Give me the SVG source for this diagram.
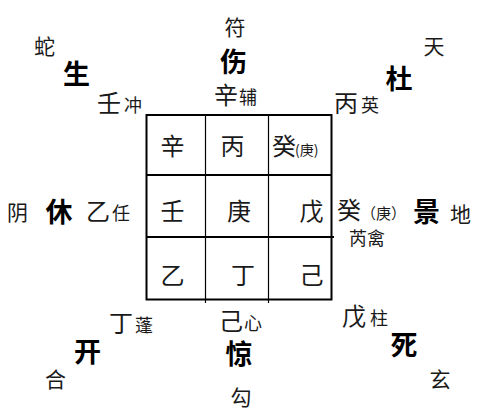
<svg xmlns="http://www.w3.org/2000/svg" width="478" height="420" viewBox="0 0 478 420">
<style>
text{font-family:"Noto Sans CJK SC","Noto Sans CJK JP",sans-serif;fill:#1a1a1a}
.door{font-size:27px;font-weight:bold;fill:#000;text-anchor:middle}
.god{font-size:21px;text-anchor:middle}
.stem{font-size:24px}
.star{font-size:18px}
.cell{font-size:24px;text-anchor:middle}
.thick{stroke:#000;stroke-width:2;fill:none}
.thin{stroke:#000;stroke-width:1.2;fill:none}
</style>
<rect width="478" height="420" fill="#fff"/>
<g id="grid">
<rect class="thick" x="146.5" y="115" width="185" height="184.5"/>
<line class="thick" x1="146.5" y1="175" x2="331.5" y2="175"/>
<line class="thick" x1="146.5" y1="237" x2="334" y2="237"/>
<line class="thin" x1="205.5" y1="115" x2="205.5" y2="303"/>
<line class="thin" x1="268.5" y1="115" x2="268.5" y2="303"/>
</g>
<g id="cells">
<text class="cell" x="172.5" y="155">辛</text>
<text class="cell" x="232.5" y="155">丙</text>
<text x="272" y="155"><tspan class="stem">癸</tspan><tspan style="font-size:14px" dx="-1">(庚)</tspan></text>
<text class="cell" x="172.5" y="220">壬</text>
<text class="cell" x="239" y="220">庚</text>
<text class="cell" x="311.5" y="220">戊</text>
<text class="cell" x="172.5" y="284">乙</text>
<text class="cell" x="243" y="284">丁</text>
<text class="cell" x="311.5" y="284">己</text>
</g>
<g id="palace-nw">
<text class="god" x="44.5" y="53.5">蛇</text>
<text class="door" x="76.5" y="84">生</text>
<text x="97" y="112"><tspan class="stem">壬</tspan><tspan class="star" dx="3">冲</tspan></text>
</g>
<g id="palace-n">
<text class="god" x="235" y="34.5">符</text>
<text class="door" x="233.5" y="72">伤</text>
<text x="214" y="104"><tspan class="stem">辛</tspan><tspan class="star" dx="1">辅</tspan></text>
</g>
<g id="palace-ne">
<text class="god" x="434" y="53.5">天</text>
<text class="door" x="399" y="89">杜</text>
<text x="334" y="112"><tspan class="stem">丙</tspan><tspan class="star" dx="3">英</tspan></text>
</g>
<g id="palace-w">
<text class="god" x="17.5" y="219.5">阴</text>
<text class="door" x="59" y="222">休</text>
<text x="86" y="220"><tspan class="stem">乙</tspan><tspan class="star" dx="2">任</tspan></text>
</g>
<g id="palace-e">
<text x="337" y="219"><tspan class="stem">癸</tspan><tspan style="font-size:15px">（庚）</tspan></text>
<text class="star" x="349" y="245">芮禽</text>
<text class="door" x="426.5" y="222">景</text>
<text class="god" x="460.5" y="221.5">地</text>
</g>
<g id="palace-sw">
<text x="109" y="332"><tspan class="stem">丁</tspan><tspan class="star" dx="2">蓬</tspan></text>
<text class="door" x="87.5" y="362">开</text>
<text class="god" x="55.5" y="386.5">合</text>
</g>
<g id="palace-s">
<text x="219" y="330"><tspan class="stem">己</tspan><tspan class="star" dx="1">心</tspan></text>
<text class="door" x="239" y="364">惊</text>
<text class="god" x="241" y="404.5">勾</text>
</g>
<g id="palace-se">
<text x="342" y="325"><tspan class="stem">戊</tspan><tspan class="star" dx="4">柱</tspan></text>
<text class="door" x="404" y="355">死</text>
<text class="god" x="440" y="386.5">玄</text>
</g>
</svg>
